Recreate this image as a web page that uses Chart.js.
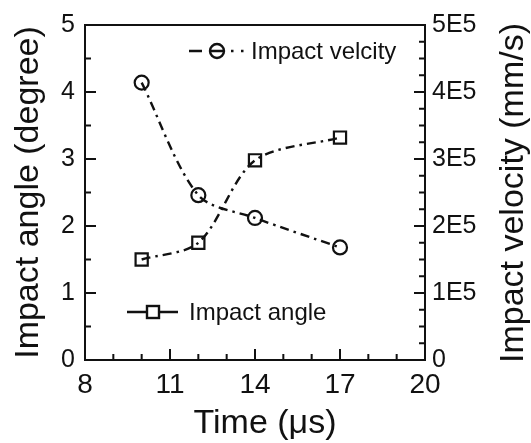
<!DOCTYPE html>
<html>
<head>
<meta charset="utf-8">
<script src="https://cdn.jsdelivr.net/npm/chart.js@4.4.1/dist/chart.umd.min.js"></script>
<style>
  html, body { margin: 0; padding: 0; background: #fff; }
  #wrap { width: 531px; height: 443px; }
</style>
</head>
<body>
<div id="wrap"><canvas id="impactChart" width="531" height="443"></canvas></div>
<script>
// ------------------------------------------------------------
// Impact angle / impact velocity vs time
// ------------------------------------------------------------

const timeUs = [10, 12, 14, 17];
const impactAngle = [1.50, 1.75, 2.98, 3.32];
const impactVelocity = [4.14e5, 2.46e5, 2.12e5, 1.68e5];

const xTicks = [8, 11, 14, 17, 20];
const angleTicks = [0, 1, 2, 3, 4, 5];
const velocityTicks = [0, 1e5, 2e5, 3e5, 4e5, 5e5];

const INK = '#111';
const FONT = "'Liberation Sans', Arial, sans-serif";
const DASH_DOT = [9, 5, 2.5, 5];

// frame, inward tick marks, legend and the rotated right title
const decorations = {
  id: 'decorations',
  afterDraw(chart) {
    const { ctx, chartArea: a, scales } = chart;
    ctx.save();
    ctx.strokeStyle = INK;
    ctx.fillStyle = INK;
    ctx.lineWidth = 2;
    ctx.strokeRect(a.left, a.top, a.right - a.left, a.bottom - a.top);

    ctx.beginPath();
    // x: minor every 1, major on labels
    for (let v = scales.x.min; v <= scales.x.max; v += 1) {
      const px = scales.x.getPixelForValue(v);
      const len = xTicks.includes(v) ? 11 : 6;
      ctx.moveTo(px, a.bottom);
      ctx.lineTo(px, a.bottom - len);
    }
    // left y: minor every 0.5
    for (let i = 0; i <= 10; i++) {
      const py = scales.y.getPixelForValue(i * 0.5);
      const len = i % 2 === 0 ? 11 : 6;
      ctx.moveTo(a.left, py);
      ctx.lineTo(a.left + len, py);
    }
    // right y: minor every 0.25E5
    for (let i = 0; i <= 20; i++) {
      const py = scales.yV.getPixelForValue(i * 0.25e5);
      const len = i % 4 === 0 ? 11 : 6;
      ctx.moveTo(a.right, py);
      ctx.lineTo(a.right - len, py);
    }
    ctx.stroke();

    // legend: Impact velcity
    ctx.font = `24px ${FONT}`;
    ctx.textBaseline = 'middle';
    ctx.textAlign = 'left';
    ctx.lineWidth = 2.4;
    ctx.beginPath();
    ctx.setLineDash([13, 8, 14, 7, 2.5, 7.5, 2.5, 50]);
    ctx.moveTo(189, 51);
    ctx.lineTo(245, 51);
    ctx.stroke();
    ctx.setLineDash([]);
    ctx.beginPath();
    ctx.arc(217, 51, 7, 0, Math.PI * 2);
    ctx.stroke();
    ctx.fillText('Impact velcity', 251, 52);

    // legend: Impact angle
    ctx.beginPath();
    ctx.moveTo(127, 312);
    ctx.lineTo(178, 312);
    ctx.stroke();
    ctx.fillStyle = '#fff';
    ctx.fillRect(147, 306, 12, 12);
    ctx.strokeRect(147, 306, 12, 12);
    ctx.fillStyle = INK;
    ctx.fillText('Impact angle', 189, 313);

    // x title (sits a little right of centre in the original)
    ctx.font = `34px ${FONT}`;
    ctx.textAlign = 'center';
    ctx.fillText('Time (\u03bcs)', 265, 424);

    // right title, reading bottom to top
    ctx.translate(514, 193);
    ctx.rotate(-Math.PI / 2);
    ctx.fillText('Impact velocity (mm/s)', 0, 0);
    ctx.restore();
  },
};

const pts = (ys) => timeUs.map((t, i) => ({ x: t, y: ys[i] }));

new Chart(document.getElementById('impactChart'), {
  type: 'line',
  data: {
    datasets: [
      {
        label: 'Impact velcity',
        data: pts(impactVelocity),
        yAxisID: 'yV',
        pointStyle: 'circle',
        pointRadius: 7,
      },
      {
        label: 'Impact angle',
        data: pts(impactAngle),
        yAxisID: 'y',
        pointStyle: 'rect',
        pointRadius: 8.6,
      },
    ].map(d => ({
      ...d,
      borderColor: INK,
      borderWidth: 2.4,
      borderDash: DASH_DOT,
      tension: 0.3,
      fill: false,
      pointBackgroundColor: 'rgba(0,0,0,0)',
      pointBorderColor: INK,
      pointBorderWidth: 2.2,
    })),
  },
  options: {
    responsive: false,
    animation: false,
    layout: { padding: { top: 20, left: 0, right: 0, bottom: 0 } },
    plugins: { legend: { display: false }, tooltip: { enabled: false } },
    scales: {
      x: {
        type: 'linear',
        min: 8,
        max: 20,
        afterBuildTicks: s => { s.ticks = xTicks.map(v => ({ value: v })); },
        afterFit: s => { s.height = 83; },
        grid: { display: false, drawTicks: false },
        border: { display: false },
        ticks: { color: INK, padding: 8, font: { family: FONT, size: 28 } },
      },
      y: {
        position: 'left',
        min: 0,
        max: 5,
        afterBuildTicks: s => { s.ticks = angleTicks.map(v => ({ value: v })); },
        afterFit: s => { s.width = 85; },
        grid: { display: false, drawTicks: false },
        border: { display: false },
        ticks: { color: INK, padding: 10, font: { family: FONT, size: 25 } },
        title: {
          display: true,
          text: 'Impact angle (degree)',
          color: INK,
          padding: { top: 12, bottom: 0 },
          font: { family: FONT, size: 34, lineHeight: 1 },
        },
      },
      yV: {
        position: 'right',
        min: 0,
        max: 5e5,
        afterBuildTicks: s => { s.ticks = velocityTicks.map(v => ({ value: v })); },
        afterFit: s => { s.width = 106; },
        grid: { display: false, drawTicks: false },
        border: { display: false },
        ticks: {
          color: INK,
          padding: 7,
          font: { family: FONT, size: 25 },
          callback: v => (v === 0 ? '0' : (v / 1e5) + 'E5'),
        },
      },
    },
  },
  plugins: [decorations],
});
</script>
</body>
</html>
